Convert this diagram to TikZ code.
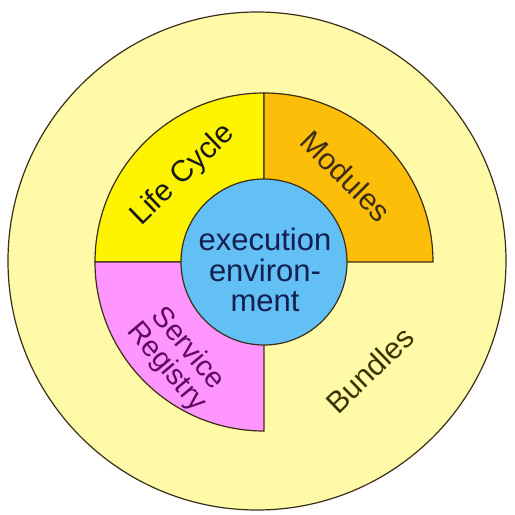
\documentclass[tikz,border=0pt]{standalone}
\usepackage{fontspec}
\setmainfont{Liberation Sans}
\usepackage{tikz}
\definecolor{bundlecol}{RGB}{255,250,168}
\definecolor{lifecol}{RGB}{255,244,0}
\definecolor{modcol}{RGB}{252,190,8}
\definecolor{servcol}{RGB}{255,150,255}
\definecolor{execcol}{RGB}{98,192,244}
\definecolor{edgecol}{RGB}{60,45,25}
\newcommand{\lblsize}{\fontsize{30}{32}\selectfont}

\begin{document}
\begin{tikzpicture}[x=1pt,y=1pt,
    part/.style={draw=edgecol,line width=1.2pt}]
    \useasboundingbox (-264,-253) rectangle (251,262);
    \fill[white] (-264,-253) rectangle (251,262);

    % outer ring and the three layers
    \filldraw[part,fill=bundlecol] (-7,1) circle (249);
    \filldraw[part,fill=lifecol] (0,0) -- (180:169) arc[start angle=180,end angle=90,radius=169] -- cycle;
    \filldraw[part,fill=modcol] (0,0) -- (90:169) arc[start angle=90,end angle=0,radius=169] -- cycle;
    \filldraw[part,fill=servcol] (0,0) -- (270:169) arc[start angle=270,end angle=180,radius=169] -- cycle;
    \filldraw[part,fill=execcol] (0,0) circle (83);

    \node (1) at (-81,87) [rotate=44,text=black!90,inner sep=0pt] {\lblsize Life Cycle};
    \node (2) at (82,86) [rotate=-45,text=edgecol,inner sep=0pt] {\lblsize Modules};
    \node (3) at (-87,-96) [rotate=-50,align=center,inner sep=0pt,text={rgb,255:red,95;green,10;blue,95},
        font=\fontsize{29}{28}\selectfont] {Service\\Registry};
    \node (4) at (106,-108) [rotate=44,text={rgb,255:red,60;green,52;blue,0},inner sep=0pt] {\lblsize Bundles};
    \node (5) at (1,-8) [align=center,inner sep=0pt,text={rgb,255:red,20;green,30;blue,80},
        font=\fontsize{31}{30.5}\selectfont] {execution\\environ-\\ment};
\end{tikzpicture}
\end{document}
